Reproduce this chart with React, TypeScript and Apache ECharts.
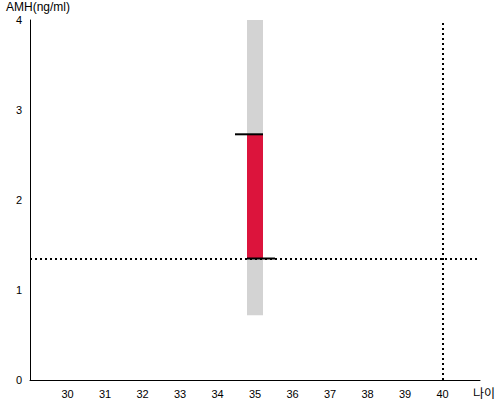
import React, { useEffect, useRef } from "react";
import * as echarts from "echarts";

const ages = [35];
const amhLow = [1.35];
const amhHigh = [2.73];
const rangeLow = [0.72];
const rangeHigh = [4];
const refAge = 40;
const refAmh = 1.35;
const yTicks = [0, 1, 2, 3, 4];

export default function App() {
  const ref = useRef<HTMLDivElement>(null);
  useEffect(() => {
    const chart = echarts.init(ref.current!, null, { renderer: "svg" });
    const data = ages.map((a, i) => [a, amhLow[i], amhHigh[i], rangeLow[i], rangeHigh[i]]);
    chart.setOption({
      animation: false,
      textStyle: { fontFamily: "Liberation Sans, Arial, sans-serif" },
      grid: { left: 30, right: 20, top: 20, bottom: 20 },
      xAxis: {
        type: "value",
        min: 29,
        max: 41,
        interval: 1,
        name: "나이",
        nameLocation: "end",
        nameGap: -7,
        nameTextStyle: {
          color: "#000",
          fontSize: 12,
          verticalAlign: "top",
          padding: [6, 0, 0, 0],
          fontFamily: "Noto Sans CJK KR, sans-serif",
        },
        axisLine: { lineStyle: { color: "#000", width: 1 } },
        axisTick: { show: false },
        splitLine: { show: false },
        axisLabel: {
          color: "#000",
          fontSize: 11,
          formatter: (v: number) => (v >= 30 && v <= 40 ? String(v) : ""),
        },
      },
      yAxis: {
        type: "value",
        min: yTicks[0],
        max: yTicks[yTicks.length - 1],
        interval: 1,
        name: "AMH(ng/ml)",
        nameLocation: "end",
        nameGap: 7,
        nameTextStyle: { color: "#000", fontSize: 12, align: "center", padding: [0, 0, 0, 16] },
        axisLine: { show: true, lineStyle: { color: "#000", width: 1 } },
        axisTick: { show: false },
        splitLine: { show: false },
        axisLabel: { color: "#000", fontSize: 11 },
      },
      series: [
        {
          type: "custom",
          data,
          encode: { x: 0, y: [1, 2] },
          renderItem: (params: any, api: any) => {
            const x = api.value(0);
            const lo = api.coord([x, api.value(1)]);
            const hi = api.coord([x, api.value(2)]);
            const rlo = api.coord([x, api.value(3)]);
            const rhi = api.coord([x, api.value(4)]);
            const cx = lo[0];
            const w = 16;
            return {
              type: "group",
              children: [
                {
                  type: "rect",
                  shape: { x: cx - w / 2, y: rhi[1], width: w, height: rlo[1] - rhi[1] },
                  style: { fill: "#d3d3d3" },
                },
                {
                  type: "rect",
                  shape: { x: cx - w / 2, y: hi[1], width: w, height: lo[1] - hi[1] },
                  style: { fill: "#dc143c" },
                },
                {
                  type: "line",
                  shape: { x1: cx - 20, y1: hi[1], x2: cx + 8, y2: hi[1] },
                  style: { stroke: "#000", lineWidth: 2 },
                },
                {
                  type: "line",
                  shape: { x1: cx - 8, y1: lo[1], x2: cx + 20, y2: lo[1] },
                  style: { stroke: "#000", lineWidth: 2 },
                },
              ],
            };
          },
          markLine: {
            silent: true,
            symbol: "none",
            label: { show: false },
            lineStyle: { color: "#000", type: [2, 3], width: 2 },
            data: [{ xAxis: refAge }, { yAxis: refAmh }],
          },
          z: 2,
        },
      ],
    });
    return () => chart.dispose();
  }, []);
  return <div ref={ref} style={{ width: 500, height: 400, position: "absolute", left: 0, top: 0 }} />;
}
